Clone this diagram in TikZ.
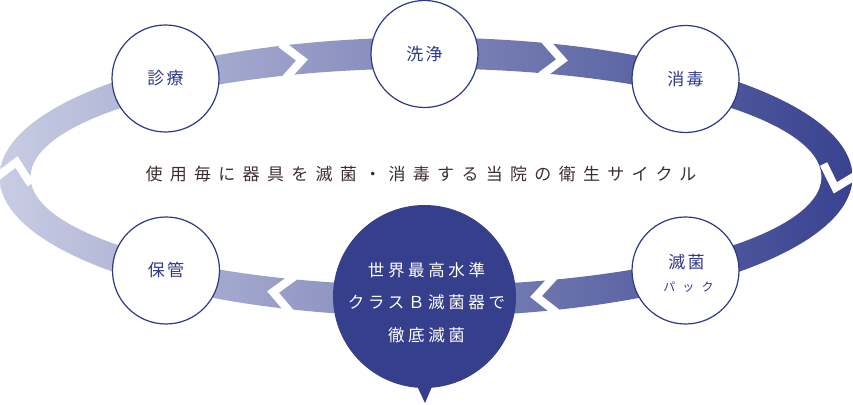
\documentclass[tikz,border=0pt]{standalone}
\usepackage{fontspec}
\usetikzlibrary{calc}
\newfontfamily\jpmain[LetterSpace=43]{Noto Sans CJK JP}
\newfontfamily\jpcirc[LetterSpace=14]{Noto Sans CJK JP}
\newfontfamily\jpsmall[LetterSpace=60]{Noto Sans CJK JP}
\newfontfamily\jpbig[LetterSpace=22]{Noto Sans CJK JP}
\definecolor{navy}{RGB}{46,58,137}
\definecolor{bandL}{RGB}{200,204,227}
\definecolor{bandR}{RGB}{56,66,143}
\definecolor{bigfill}{RGB}{54,63,139}
\definecolor{txtbrown}{RGB}{62,45,45}
\tikzset{
  stagecirc/.style={circle, draw=navy, line width=1.2pt, fill=white, minimum size=107pt, inner sep=0pt, text=navy, font=\fontsize{17}{20}\selectfont\jpcirc},
  gapmark/.style={draw=white, line width=8pt, line join=miter, miter limit=10},
  bigcirc/.style={circle, fill=bigfill, minimum size=183pt, inner sep=0pt},
  bigtext/.style={text=white, align=center, font=\fontsize{16.5}{32.5}\selectfont\jpbig},
}
\begin{document}
\begin{tikzpicture}[x=1pt,y=1pt]
\useasboundingbox (0,0) rectangle (853,404);
\coordinate (c) at (426,227);
% ring band
\path[even odd rule, left color=bandL, right color=bandR]
  (c) ellipse [x radius=426.5, y radius=139.5]
  (c) ellipse [x radius=395.5, y radius=108.5];
% chevron gaps
\coordinate (g1) at (302,344);
\coordinate (g2) at (562,344);
\coordinate (g3) at (835.4,216.2);
\coordinate (g4) at (536,107.5);
\coordinate (g5) at (273,112);
\coordinate (g6) at (16.5,242);
\draw[gapmark, shift={(g1)}, rotate=5.45] (-19.5,18) -- (0,0) -- (-19.5,-18);
\draw[gapmark, shift={(g2)}, rotate=-6.0] (-19.5,18) -- (0,0) -- (-19.5,-18);
\draw[gapmark, shift={(g3)}, rotate=-106.2] (-19.5,18) -- (0,0) -- (-19.5,-18);
\draw[gapmark, shift={(g4)}, rotate=184.8] (-19.5,18) -- (0,0) -- (-19.5,-18);
\draw[gapmark, shift={(g5)}, rotate=173.1] (-19.5,18) -- (0,0) -- (-19.5,-18);
\draw[gapmark, shift={(g6)}, rotate=80] (-19.5,18) -- (0,0) -- (-19.5,-18);
% stage circles
\node[stagecirc] (shinryo) at (165.5,325.5) {診療};
\node[stagecirc] (senjo) at (424.5,350) {洗浄};
\node[stagecirc] (shodoku) at (685.5,325) {消毒};
\node[stagecirc] (hokan) at (166,133.5) {保管};
\node[stagecirc] (mekkin) at (685.5,133.5) {};
\node[text=navy, font=\fontsize{17}{20}\selectfont\jpcirc] (mekkintxt) at ($(mekkin.center)+(1,8.5)$) {滅菌};
\node[text=navy, font=\fontsize{12}{14}\selectfont\jpsmall] (packtxt) at ($(mekkin.center)+(3,-16.5)$) {パック};
% big circle with pointer
\node[bigcirc] (big) at (424.5,107.5) {};
\coordinate (tip) at (425,1);
\fill[bigfill] ($(big.center)+(-11,-82)$) -- (tip) -- ($(big.center)+(11,-82)$) -- cycle;
\node[bigtext] (bigtxt) at ($(big.center)+(2,-6)$) {世界最高水準\\クラスＢ滅菌器で\\徹底滅菌};
% central caption
\node[text=txtbrown, font=\fontsize{17}{20}\selectfont\jpmain] (caption) at (421,230) {使用毎に器具を滅菌・消毒する当院の衛生サイクル};
\end{tikzpicture}
\end{document}
